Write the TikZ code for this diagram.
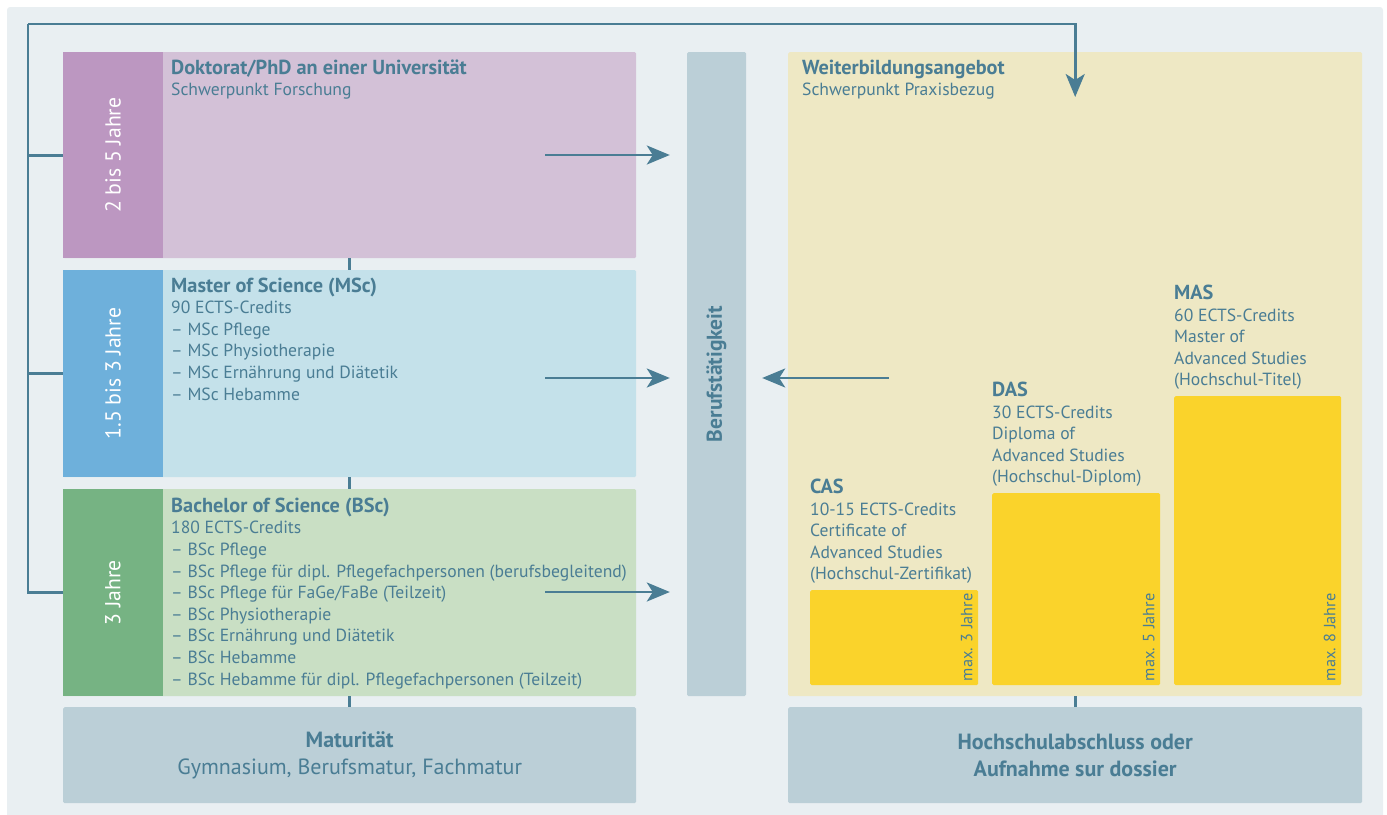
\documentclass[tikz,border=0pt]{standalone}
\usepackage{fontspec}
\setmainfont{PT Sans}
\usetikzlibrary{arrows.meta}

\definecolor{ink}{HTML}{4A7D94}
\definecolor{backgr}{HTML}{E9EFF2}
\definecolor{phdside}{HTML}{BC97C1}
\definecolor{phdmain}{HTML}{D3C1D7}
\definecolor{mscside}{HTML}{6EB0DB}
\definecolor{mscmain}{HTML}{C4E1EA}
\definecolor{bscside}{HTML}{76B383}
\definecolor{bscmain}{HTML}{C9DFC4}
\definecolor{grayblue}{HTML}{BBCFD7}
\definecolor{weiterbg}{HTML}{EEE8C4}
\definecolor{gold}{HTML}{FAD32B}

\newcommand{\bodyfont}{\fontsize{17.6}{21.6}\selectfont}
\newcommand{\titlefont}{\fontsize{20.3}{21.6}\selectfont\bfseries}

\begin{document}
\begin{tikzpicture}[x=1pt,y=-1pt,
 block/.style={fill=#1,rounded corners=1.5pt,inner sep=0pt,anchor=north west},
 side/.style={fill=#1,rotate=90,inner sep=0pt,text=white,font=\fontsize{21.7}{24}\selectfont},
 txt/.style={inner sep=0pt,anchor=north west,align=left,text=ink,font=\bodyfont},
 gray/.style={fill=grayblue,rounded corners=1.5pt,inner sep=0pt,anchor=north west,align=center,text=ink,font=\fontsize{22}{27}\selectfont},
 years/.style={rotate=90,inner sep=0pt,anchor=base west,text=ink,font=\fontsize{16.3}{18}\selectfont},
 link/.style={draw=ink,line width=2.6pt},
 arrow/.style={link,-{Stealth[length=23pt,width=19pt,inset=6pt]}}]
\useasboundingbox (0,0) rectangle (1387,814);
\fill[backgr,rounded corners=3pt] (7,7) rectangle (1383,830);

\node[block=phdmain,minimum width=573,minimum height=206] (phd) at (63,52) {};
\node[block=mscmain,minimum width=573,minimum height=207] (msc) at (63,270) {};
\node[block=bscmain,minimum width=573,minimum height=207] (bsc) at (63,489) {};
\node[side=phdside,minimum width=206,minimum height=100] (phdyears) at ([xshift=50pt]phd.west) {2 bis 5 Jahre};
\node[side=mscside,minimum width=207,minimum height=100] (mscyears) at ([xshift=50pt]msc.west) {1.5 bis 3 Jahre};
\node[side=bscside,minimum width=207,minimum height=100] (bscyears) at ([xshift=50pt]bsc.west) {3 Jahre};

\node[txt] (phdtext) at (171,59.5) {{\titlefont Doktorat/PhD an einer Universität}\\Schwerpunkt Forschung};
\node[txt] (msctext) at (171,277.5) {{\titlefont Master of Science (MSc)}\\90 ECTS-Credits\\– MSc Pflege\\– MSc Physiotherapie\\– MSc Ernährung und Diätetik\\– MSc Hebamme};
\node[txt] (bsctext) at (171,497.5) {{\titlefont Bachelor of Science (BSc)}\\180 ECTS-Credits\\– BSc Pflege\\– BSc Pflege für dipl. Pflegefachpersonen (berufsbegleitend)\\– BSc Pflege für FaGe/FaBe (Teilzeit)\\– BSc Physiotherapie\\– BSc Ernährung und Diätetik\\– BSc Hebamme\\– BSc Hebamme für dipl. Pflegefachpersonen (Teilzeit)};

\node[gray,minimum width=573,minimum height=96] (matur) at (63,707) {\textbf{Maturität}\\Gymnasium, Berufsmatur, Fachmatur};

\node[fill=grayblue,rounded corners=1.5pt,rotate=90,inner sep=0pt,minimum width=644,minimum height=59,text=ink,font=\fontsize{21.5}{24}\selectfont\bfseries] (beruf) at (716.5,374) {Berufstätigkeit};

\node[block=weiterbg,minimum width=574,minimum height=644] (weiter) at (788,52) {};
\node[txt] (weitertext) at (802,59.5) {{\titlefont Weiterbildungsangebot}\\Schwerpunkt Praxisbezug};
\node[block=gold,minimum width=168,minimum height=95] (cas) at (810,590) {};
\node[block=gold,minimum width=168,minimum height=192] (das) at (992,493) {};
\node[block=gold,minimum width=167,minimum height=289] (mas) at (1174,396) {};
\node[txt,anchor=south west] (castext) at ([yshift=6pt]cas.north west) {{\titlefont CAS}\\10-15 ECTS-Credits\\Certificate of\\Advanced Studies\\(Hochschul-Zertifikat)};
\node[txt,anchor=south west] (dastext) at ([yshift=6pt]das.north west) {{\titlefont DAS}\\30 ECTS-Credits\\Diploma of\\Advanced Studies\\(Hochschul-Diplom)};
\node[txt,anchor=south west] (mastext) at ([yshift=6pt]mas.north west) {{\titlefont MAS}\\60 ECTS-Credits\\Master of\\Advanced Studies\\(Hochschul-Titel)};
\node[years] (casyears) at ([xshift=-6pt,yshift=4pt]cas.south east) {max. 3 Jahre};
\node[years] (dasyears) at ([xshift=-6pt,yshift=4pt]das.south east) {max. 5 Jahre};
\node[years] (masyears) at ([xshift=-6pt,yshift=4pt]mas.south east) {max. 8 Jahre};

\node[gray,minimum width=574,minimum height=96,font=\fontsize{22}{27}\selectfont\bfseries] (hoch) at (788,707) {Hochschulabschluss oder\\Aufnahme sur dossier};

\draw[link] (phd.south) -- (msc.north);
\draw[link] (msc.south) -- (bsc.north);
\draw[link] (bsc.south) -- (matur.north);
\draw[link] (weiter.south) -- (hoch.north);

\coordinate (loop) at (28,24);
\draw[link] (bsc.west) -| (loop);
\draw[link] (phd.west) -- (phd.west -| loop);
\draw[link] (msc.west) -- (msc.west -| loop);
\draw[arrow] (loop) -| ([yshift=-45pt]weiter.north);

\coordinate (phdout) at (545,155);
\coordinate (mscout) at (545,378);
\coordinate (bscout) at (545,592);
\coordinate (weiterout) at (889,378);
\draw[arrow,shorten >=17pt] (phdout) -- (phdout -| beruf.north);
\draw[arrow,shorten >=17pt] (mscout) -- (mscout -| beruf.north);
\draw[arrow,shorten >=17pt] (bscout) -- (bscout -| beruf.north);
\draw[arrow,shorten >=16pt] (weiterout) -- (weiterout -| beruf.south);
\end{tikzpicture}
\end{document}
